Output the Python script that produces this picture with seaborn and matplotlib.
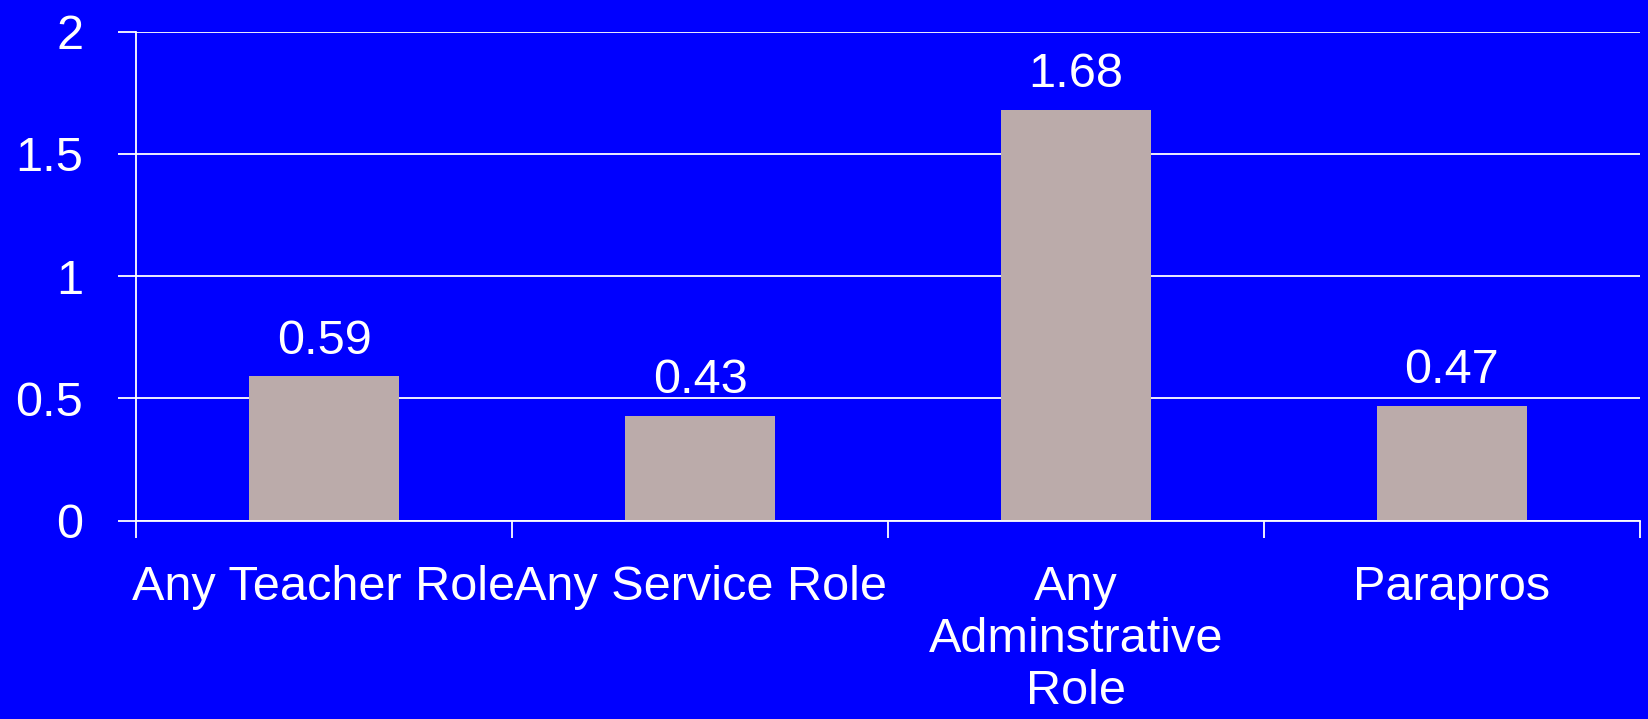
#----------- Module -----------#
import numpy as np
import pandas as pd
import matplotlib
matplotlib.use('Agg')
import matplotlib.pyplot as plt
import seaborn as sns

#----------- Daten -----------#
categories = ['Any Teacher Role', 'Any Service Role', 'Any\nAdminstrative\nRole', 'Parapros']
values = [0.59, 0.43, 1.68, 0.47]
yticks = [0, 0.5, 1, 1.5, 2]
ytick_labels = ['0', '0.5', '1', '1.5', '2']

#----------- Stil -----------#
sns.set_style('white')
plt.rcParams['font.family'] = ['Liberation Sans', 'DejaVu Sans']
bg = '#0000FF'
bar_color = '#BBABAA'
fs = 35

df = pd.DataFrame({'Rolle': categories, 'Wert': values})

fig = plt.figure(figsize=(16.49, 7.19), dpi=100, facecolor=bg)
ax = fig.add_axes([0.0825, 0.2758, 0.912, 0.6802])
ax.set_facecolor(bg)

sns.barplot(data=df, x='Rolle', y='Wert', color=bar_color, saturation=1, width=0.4,
            linewidth=0, edgecolor=bar_color, ax=ax)

ax.set_ylim(0, 2)
ax.set_xlim(-0.5, len(categories) - 0.5)
ax.set_yticks(yticks)
ax.set_yticklabels(ytick_labels)
ax.yaxis.grid(True, color='white', linewidth=1.3)
ax.set_axisbelow(True)

#Achsen
for side in ['top', 'right']:
    ax.spines[side].set_visible(False)
for side in ['left', 'bottom']:
    ax.spines[side].set_color('white')
    ax.spines[side].set_linewidth(1.3)

ax.tick_params(axis='y', colors='white', labelsize=fs, length=13, width=1.3, pad=25, direction='out', left=True)
ax.set_xticks(np.arange(len(categories)))
ax.set_xticklabels(categories, linespacing=1.2)
ax.set_xticks(np.arange(len(categories) + 1) - 0.5, minor=True)
ax.tick_params(axis='x', which='major', colors='white', labelsize=fs, length=0, pad=32)
ax.tick_params(axis='x', which='minor', colors='white', length=12, width=1.3, direction='out', bottom=True)
ax.set_xlabel('')
ax.set_ylabel('')

#Beschriftung der Balken
ax.bar_label(ax.containers[0], labels=['%g' % v for v in values], padding=9, color='white', fontsize=fs)

fig.savefig('out.png', dpi=100, facecolor=bg)
